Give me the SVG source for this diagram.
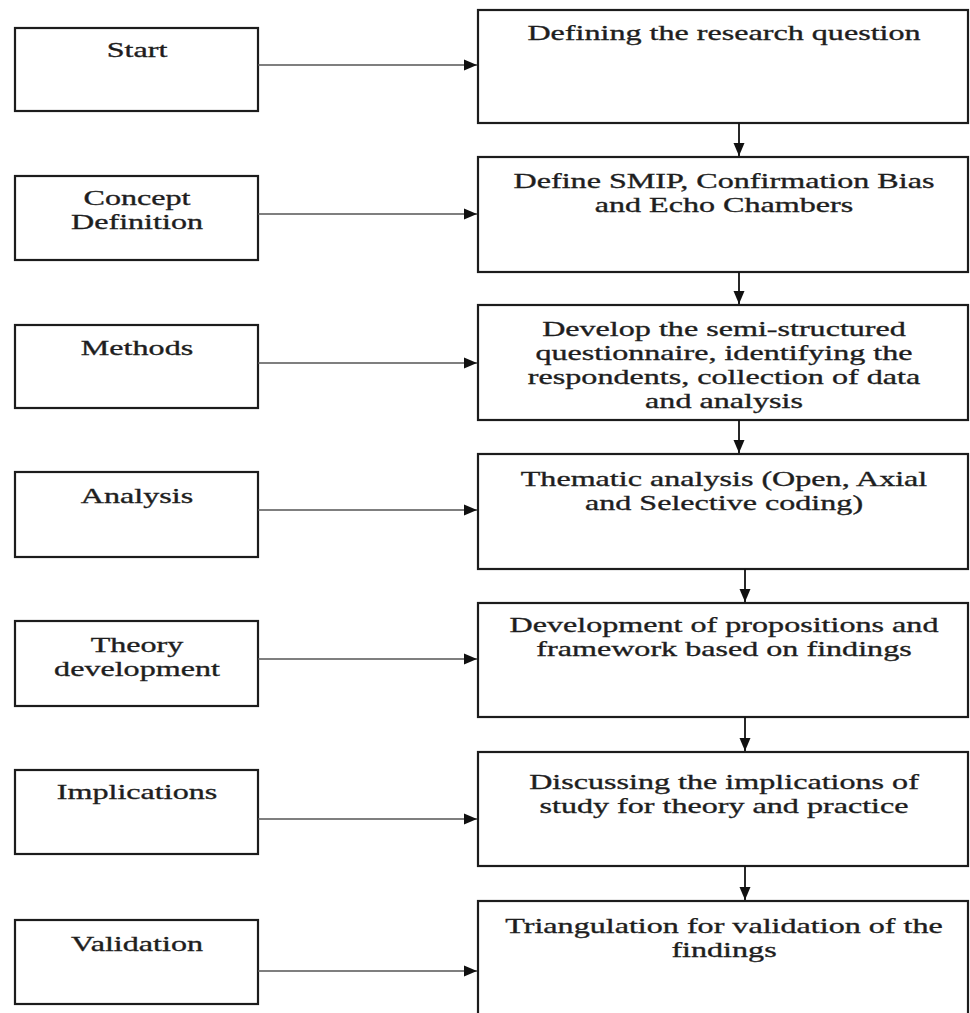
<svg xmlns="http://www.w3.org/2000/svg" width="970" height="1013" viewBox="0 0 970 1013">
<style>
.box{fill:#fff;stroke:#1c1c1c;stroke-width:2.2}
.t{font-family:"Liberation Serif","Times New Roman",serif;font-size:22px;fill:#1e1e1e;stroke:#1e1e1e;stroke-width:0.35;text-anchor:middle}
.h{stroke:#555;stroke-width:1.6;fill:none}
.v{stroke:#111;stroke-width:1.8;fill:none}
</style>
<defs>
<marker id="ah" markerUnits="userSpaceOnUse" markerWidth="14" markerHeight="12" refX="13" refY="6" orient="auto">
<path d="M0,0.5 L13,6 L0,11.5 z" fill="#111"/>
</marker>
</defs>
<rect width="970" height="1013" fill="#fff"/>

<g id="left-start"><rect class="box" x="15" y="28" width="243" height="83"/>
<text class="t" transform="translate(137,57) scale(1.46,1)">Start</text></g>
<g id="left-concept"><rect class="box" x="15" y="176" width="243" height="84"/>
<text class="t" transform="translate(137,205) scale(1.46,1)">Concept</text>
<text class="t" transform="translate(137,229) scale(1.46,1)">Definition</text></g>
<g id="left-methods"><rect class="box" x="15" y="325" width="243" height="83"/>
<text class="t" transform="translate(137,355) scale(1.46,1)">Methods</text></g>
<g id="left-analysis"><rect class="box" x="15" y="472" width="243" height="85"/>
<text class="t" transform="translate(137,503) scale(1.46,1)">Analysis</text></g>
<g id="left-theory"><rect class="box" x="15" y="621" width="243" height="85"/>
<text class="t" transform="translate(137,652) scale(1.46,1)">Theory</text>
<text class="t" transform="translate(137,676) scale(1.46,1)">development</text></g>
<g id="left-implications"><rect class="box" x="15" y="770" width="243" height="84"/>
<text class="t" transform="translate(137,799) scale(1.46,1)">Implications</text></g>
<g id="left-validation"><rect class="box" x="15" y="920" width="243" height="84"/>
<text class="t" transform="translate(137,951) scale(1.46,1)">Validation</text></g>

<g id="step1"><rect class="box" x="478" y="10" width="490" height="113"/>
<text class="t" transform="translate(724,40) scale(1.46,1)">Defining the research question</text></g>
<g id="step2"><rect class="box" x="478" y="157" width="490" height="115"/>
<text class="t" transform="translate(724,188) scale(1.46,1)">Define SMIP, Confirmation Bias</text>
<text class="t" transform="translate(724,212) scale(1.46,1)">and Echo Chambers</text></g>
<g id="step3"><rect class="box" x="478" y="305" width="490" height="115"/>
<text class="t" transform="translate(724,336) scale(1.46,1)">Develop the semi-structured</text>
<text class="t" transform="translate(724,360) scale(1.46,1)">questionnaire, identifying the</text>
<text class="t" transform="translate(724,384) scale(1.46,1)">respondents, collection of data</text>
<text class="t" transform="translate(724,408) scale(1.46,1)">and analysis</text></g>
<g id="step4"><rect class="box" x="478" y="454" width="490" height="115"/>
<text class="t" transform="translate(724,486) scale(1.46,1)">Thematic analysis (Open, Axial</text>
<text class="t" transform="translate(724,510) scale(1.46,1)">and Selective coding)</text></g>
<g id="step5"><rect class="box" x="478" y="603" width="490" height="114"/>
<text class="t" transform="translate(724,632) scale(1.46,1)">Development of propositions and</text>
<text class="t" transform="translate(724,656) scale(1.46,1)">framework based on findings</text></g>
<g id="step6"><rect class="box" x="478" y="752" width="490" height="114"/>
<text class="t" transform="translate(724,789) scale(1.46,1)">Discussing the implications of</text>
<text class="t" transform="translate(724,813) scale(1.46,1)">study for theory and practice</text></g>
<g id="step7"><rect class="box" x="478" y="901" width="490" height="130"/>
<text class="t" transform="translate(724,933) scale(1.46,1)">Triangulation for validation of the</text>
<text class="t" transform="translate(724,957) scale(1.46,1)">findings</text></g>

<g id="connectors">
<line class="h" x1="258" y1="65" x2="477" y2="65" marker-end="url(#ah)"/>
<line class="h" x1="258" y1="214" x2="477" y2="214" marker-end="url(#ah)"/>
<line class="h" x1="258" y1="363" x2="477" y2="363" marker-end="url(#ah)"/>
<line class="h" x1="258" y1="510" x2="477" y2="510" marker-end="url(#ah)"/>
<line class="h" x1="258" y1="659" x2="477" y2="659" marker-end="url(#ah)"/>
<line class="h" x1="258" y1="819" x2="477" y2="819" marker-end="url(#ah)"/>
<line class="h" x1="258" y1="971" x2="477" y2="971" marker-end="url(#ah)"/>
<line class="v" x1="739" y1="123" x2="739" y2="156" marker-end="url(#ah)"/>
<line class="v" x1="739" y1="272" x2="739" y2="304" marker-end="url(#ah)"/>
<line class="v" x1="739" y1="420" x2="739" y2="453" marker-end="url(#ah)"/>
<line class="v" x1="745" y1="569" x2="745" y2="602" marker-end="url(#ah)"/>
<line class="v" x1="745" y1="717" x2="745" y2="751" marker-end="url(#ah)"/>
<line class="v" x1="745" y1="866" x2="745" y2="900" marker-end="url(#ah)"/>
</g>
</svg>
